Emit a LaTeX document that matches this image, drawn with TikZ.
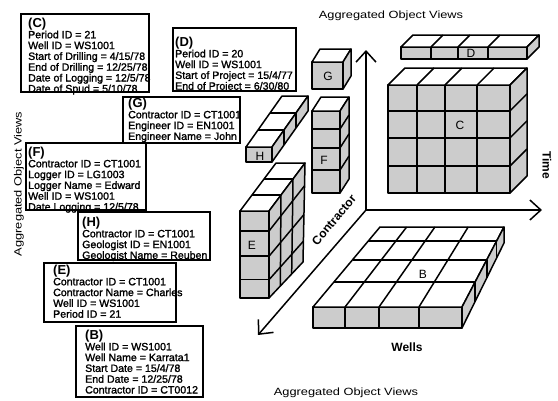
\documentclass[tikz,border=0pt]{standalone}
\usepackage{fontspec}
\setmainfont{Liberation Sans}
\newfontfamily\widefont[FakeStretch=1.22]{Liberation Sans}
\newfontfamily\recfont[FakeBold=1.5]{Liberation Sans}
\usetikzlibrary{calc,arrows.meta}

\definecolor{cubeside}{RGB}{204,204,204}

\tikzset{
  cubeline/.style={line width=1.5pt, line join=round},
  boxline/.style={line width=1.6pt},
  axisline/.style={line width=1.5pt, -{Straight Barb[length=11pt,width=20pt,line width=1.5pt]}},
  boxtext/.style={anchor=base west, inner sep=0pt, font={\recfont\fontsize{10.6}{12}\selectfont}},
  boxhead/.style={anchor=base west, inner sep=0pt, font=\fontsize{13}{14}\selectfont\bfseries},
  cubelbl/.style={inner sep=0pt, font=\fontsize{12}{13}\selectfont},
  axislbl/.style={inner sep=0pt, font=\fontsize{12}{13}\selectfont\bfseries},
  viewlbl/.style={inner sep=0pt, font={\widefont\fontsize{10.5}{12}\selectfont}}
}

% quad A-B-C-D, lines across at fractions of A->B (#6) and of A->D (#7)
\newcommand\facegrid[7]{%
  \filldraw[cubeline, fill=#1] (#2) -- (#3) -- (#4) -- (#5) -- cycle;
  \if\relax\detokenize{#6}\relax\else
    \foreach \gf in {#6}{\draw[cubeline] ($(#2)!\gf!(#3)$) -- ($(#5)!\gf!(#4)$);}%
  \fi
  \if\relax\detokenize{#7}\relax\else
    \foreach \gf in {#7}{\draw[cubeline] ($(#2)!\gf!(#5)$) -- ($(#3)!\gf!(#4)$);}%
  \fi
}

% corners of an oblique box: front rectangle, top depth offset, bottom depth offset
\newcommand\cubecorners[9]{%
  \coordinate (#1-ftl) at (#2,#3);
  \coordinate (#1-ftr) at (#4,#3);
  \coordinate (#1-fbr) at (#4,#5);
  \coordinate (#1-fbl) at (#2,#5);
  \coordinate (#1-btl) at (#2+#6,#3+#7);
  \coordinate (#1-btr) at (#4+#6,#3+#7);
  \coordinate (#1-bbr) at (#4+#8,#5+#9);
}

% front, top and right faces; #2 columns, #3 rows, #4 depth slices
\newcommand\cubefaces[4]{%
  \facegrid{cubeside}{#1-ftl}{#1-ftr}{#1-fbr}{#1-fbl}{#2}{#3}
  \facegrid{white}{#1-ftl}{#1-ftr}{#1-btr}{#1-btl}{#2}{#4}
  \facegrid{cubeside}{#1-ftr}{#1-btr}{#1-bbr}{#1-fbr}{#4}{#3}
}

% record box: name, corners, text x, header y, header, lines
\newcommand\infobox[9]{%
  \fill[white] (#2,#3) rectangle (#4,#5);
  \node[boxhead] (#1-h) at (#6,#7+4.6) {#8};
  \foreach \txtline [count=\i] in {#9}{%
    \node[boxtext] (#1-l\i) at (#6,#7+11.5+3.8+10.8*\i-10.8) {\txtline};}
  \draw[boxline] (#2,#3) rectangle (#4,#5);
}

\begin{document}
\begin{tikzpicture}[x=1pt,y=-1pt]
\useasboundingbox (0,0) rectangle (558,400);
\fill[white] (0,0) rectangle (558,400);

% ---- record boxes ----
\infobox{boxC}{21}{14}{149}{92}{28}{23}{(C)}{Period ID = 21,Well ID = WS1001,Start of Drilling = 4/15/78,End of Drilling = 12/25/78,Date of Logging = 12/5/78,Date of Spud = 5/10/78}
\infobox{boxD}{173}{28}{296}{91}{175}{42}{(D)}{Period ID = 20,Well ID = WS1001,Start of Project = 15/4/77,End of Project = 6/30/80}
\infobox{boxG}{123}{97}{240}{143}{128}{103}{(G)}{Contractor ID = CT1001,Engineer ID = EN1001,Engineer Name = John}
\infobox{boxF}{26}{143}{146}{210}{28}{152}{(F)}{Contractor ID = CT1001,Logger ID = LG1003,Logger Name = Edward,Well ID = WS1001,Date Logging = 12/5/78}
\infobox{boxH}{78}{212}{210}{260}{82}{222}{(H)}{Contractor ID = CT1001,Geologist ID = EN1001,Geologist Name = Reuben}
\infobox{boxE}{44}{263}{176}{322}{53}{270}{(E)}{Contractor ID = CT1001,Contractor Name = Charles,Well ID = WS1001,Period ID = 21}
\infobox{boxB}{76}{326}{203}{397}{85}{335}{(B)}{Well ID = WS1001,Well Name = Karrata1,Start Date = 15/4/78,End Date = 12/25/78,Contractor ID = CT0012}

% ---- axes ----
\coordinate (O) at (366,210);
\coordinate (upTip) at (366,50);
\coordinate (rightTip) at (542,210);
\coordinate (diagTip) at (258,335);
\draw[axisline] (O) -- (upTip);
\draw[axisline] (O) -- (rightTip);
\draw[axisline] (O) -- (diagTip);

% ---- cubes ----
\cubecorners{G}{312}{62}{343}{89}{8}{-13}{8}{-13}
\cubefaces{G}{}{}{}
\cubecorners{F}{312}{111}{340}{193}{9}{-14}{9}{-14}
\cubefaces{F}{}{0.22,0.45,0.72}{}
\cubecorners{H}{246}{147}{272}{162}{36}{-51}{36}{-51}
\cubefaces{H}{}{}{0.333,0.667}
\cubecorners{E}{240}{211}{269}{298}{36}{-48}{34}{-36}
\cubefaces{E}{}{0.23,0.52,0.79}{0.333,0.667}
\cubecorners{D}{401}{47}{527}{59}{12}{-12}{12}{-12}
\cubefaces{D}{0.238,0.452,0.69}{}{}
\cubecorners{C}{388}{85}{510}{193}{17}{-17}{17}{-17}
\cubefaces{C}{0.238,0.467,0.73}{0.24,0.49,0.75}{}
% floor slab, drawn with a little perspective
\coordinate (B-ftl) at (313,307);
\coordinate (B-ftr) at (462,307);
\coordinate (B-fbr) at (462,328);
\coordinate (B-fbl) at (313,328);
\coordinate (B-btl) at (380,227);
\coordinate (B-btr) at (504,227);
\coordinate (B-bbr) at (504,243);
\cubefaces{B}{0.215,0.443,0.711}{}{0.31,0.59,0.825}

% ---- cube labels ----
\node[cubelbl] (labG) at (328,76) {G};
\node[cubelbl] (labF) at (324,160) {F};
\node[cubelbl] (labH) at (260,156) {H};
\node[cubelbl] (labE) at (252,245) {E};
\node[cubelbl] (labD) at (471,53) {D};
\node[cubelbl] (labC) at (460,125) {C};
\node[cubelbl] (labB) at (423,274) {B};

% ---- axis labels ----
\node[axislbl, rotate=50] (contr) at (334,220) {Contractor};
\node[axislbl] (wells) at (407,347) {Wells};
\node[axislbl, rotate=-90] (time) at (547,165) {Time};
\node[viewlbl] (viewTop) at (391,16) {Aggregated Object Views};
\node[viewlbl] (viewBottom) at (346,393) {Aggregated Object Views};
\node[viewlbl, rotate=90] (viewLeft) at (19,184) {Aggregated Object Views};
\end{tikzpicture}
\end{document}
